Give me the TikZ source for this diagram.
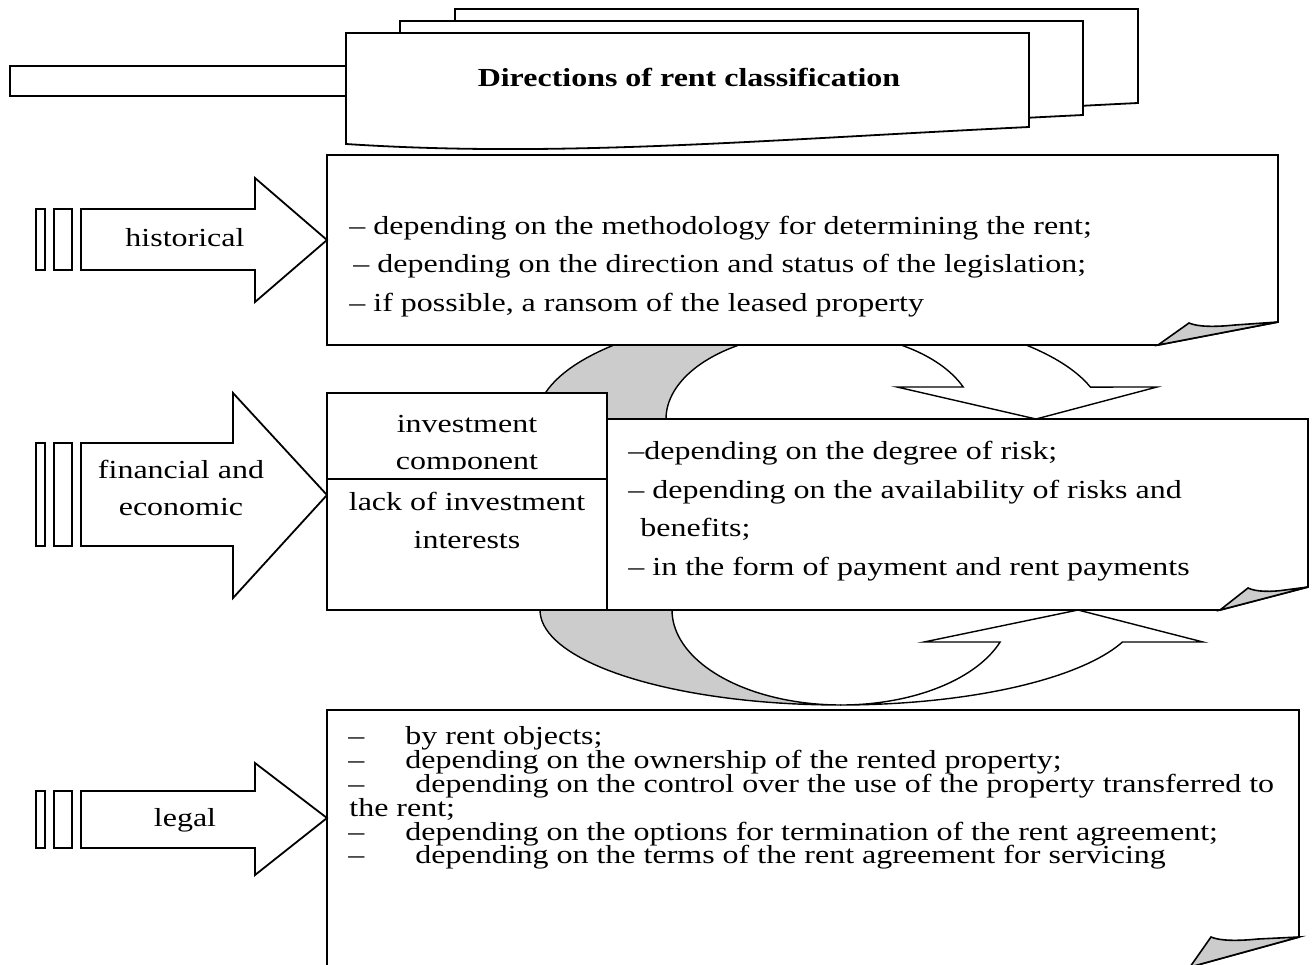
\documentclass[tikz,border=0pt]{standalone}
\usepackage{fontspec}
\setmainfont{Liberation Serif}[FakeStretch=1.23]
\usetikzlibrary{positioning}

\begin{document}
\begin{tikzpicture}[x=0.5pt, y=-0.5pt, line join=miter,
    box/.style ={draw, fill=white, line width=0.9pt},
    fold/.style={draw, fill=black!20, line width=0.8pt},
    band/.style={draw, line width=0.7pt},
    txt/.style ={inner sep=0pt, anchor=base west, font=\fontsize{13}{13}\selectfont},
    lbl/.style ={inner sep=0pt, anchor=base, font=\fontsize{13}{13}\selectfont}
  ]
  \useasboundingbox (0,0) rectangle (1312,964);
  \clip (0,0) rectangle (1312,964);

  % Title pages
  \foreach \dx/\dy in {109/-24, 54/-12, 0/0}
    \draw[box, shift={(\dx,\dy)}] (346,33) -- (1029,33) -- (1029,127)
      .. controls (760,140) and (560,158) .. (346,144) -- cycle;
  \draw[box] (10,66) rectangle (346,96);
  \node[font=\bfseries\fontsize{13}{13}\selectfont, inner sep=0pt, anchor=base]
    (title) at (689,86) {Directions of rent classification};

  % Curved arrows behind the middle row
  \draw[band, fill=black!20]
    plot[domain=180:270, samples=40] ({820+283*cos(\x)}, {419+108*sin(\x)})
    -- plot[domain=270:180, samples=40] ({820+154*cos(\x)}, {419+87*sin(\x)}) -- cycle;
  \draw[band, fill=white]
    plot[domain=270:342.8, samples=40] ({820+283*cos(\x)}, {419+108*sin(\x)})
    -- (1157,387) -- (1036,419) -- (897,387)
    -- plot[domain=338.4:270, samples=40] ({820+154*cos(\x)}, {419+87*sin(\x)}) -- cycle;
  \draw[band, fill=black!20]
    plot[domain=180:90, samples=40] ({840+300*cos(\x)}, {610+95*sin(\x)})
    -- plot[domain=90:180, samples=40] ({841+169*cos(\x)}, {610+95*sin(\x)}) -- cycle;
  \draw[band, fill=white]
    plot[domain=90:19.7, samples=40] ({840+300*cos(\x)}, {610+95*sin(\x)})
    -- (1203,642) -- (1078,610) -- (924,642)
    -- plot[domain=19.7:90, samples=40] ({841+169*cos(\x)}, {610+95*sin(\x)}) -- cycle;

  % Boxes
  \draw[box] (327,155) -- (1278,155) -- (1278,322) -- (1158,345) -- (327,345) -- cycle;
  \draw[fold] (1158,345) -- (1189,323) .. controls (1198,327) and (1215,327) .. (1235,325)
    -- (1278,322) -- cycle;
  \draw[box] (327,393) rectangle (607,610);
  \draw[box] (607,419) -- (1308,419) -- (1308,587) -- (1220,610) -- (607,610) -- cycle;
  \draw[fold] (1220,610) -- (1248,588) .. controls (1256,592) and (1272,592) .. (1285,590)
    -- (1308,587) -- cycle;
  \draw[box] (1190,967) -- (327,967) -- (327,710) -- (1299,710) -- (1299,937) -- cycle;
  \draw[fold] (1190,967) -- (1211,937) .. controls (1220,941) and (1238,941) .. (1258,939)
    -- (1299,937) -- cycle;

  % Block arrows
  \foreach \yt/\yb/\xs/\yht/\yhb/\ym in {209/270/255/178/302/240,
      443/546/233/393/598/495, 791/848/255/763/875/818} {
    \draw[box] (36,\yt) rectangle (45,\yb);
    \draw[box] (54,\yt) rectangle (72,\yb);
    \draw[box] (81,\yt) -- (\xs,\yt) -- (\xs,\yht) -- (327,\ym) -- (\xs,\yhb)
      -- (\xs,\yb) -- (81,\yb) -- cycle;
  }
  \node[lbl] (hist) at (185,246) {historical};
  \node[lbl] (fin1) at (181,478) {financial and};
  \node[lbl] (fin2) at (181,515) {economic};
  \node[lbl] (legal) at (185,826) {legal};

  % Historical text
  \node[txt] (h1) at (349,234) {– depending on the methodology for determining the rent;};
  \node[txt] (h2) at (353,272) {– depending on the direction and status of the legislation;};
  \node[txt] (h3) at (349,311) {– if possible, a ransom of the leased property};

  % Investment cells
  \node[lbl] (inv1) at (467,432) {investment};
  \node[lbl] (inv2) at (467,469) {component};
  \fill[white] (328.5,470) rectangle (605.5,479);
  \draw[box] (327,479) rectangle (607,610);
  \node[lbl] (lack1) at (467,510) {lack of investment};
  \node[lbl] (lack2) at (467,548) {interests};

  % Financial text
  \node[txt] (f1) at (628,459) {–depending on the degree of risk;};
  \node[txt] (f2) at (628,498) {– depending on the availability of risks and};
  \node[txt] (f3) at (640,536) {benefits;};
  \node[txt] (f4) at (628,575) {– in the form of payment and rent payments};

  % Legal text
  \node[txt] (l1) at (348,744) {\makebox[28.5pt][l]{–}by rent objects;};
  \node[txt] (l2) at (348,768) {\makebox[28.5pt][l]{–}depending on the ownership of the rented property;};
  \node[txt] (l3) at (348,792) {\makebox[33.5pt][l]{–}depending on the control over the use of the property transferred to};
  \node[txt] (l4) at (349,816) {the rent;};
  \node[txt] (l5) at (348,840) {\makebox[28.5pt][l]{–}depending on the options for termination of the rent agreement;};
  \node[txt] (l6) at (348,863) {\makebox[33.5pt][l]{–}depending on the terms of the rent agreement for servicing};
\end{tikzpicture}
\end{document}
